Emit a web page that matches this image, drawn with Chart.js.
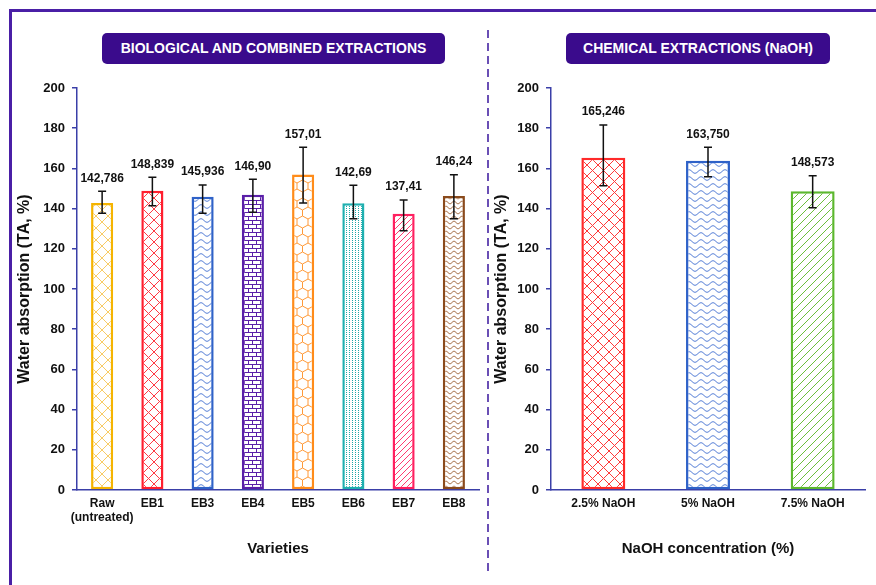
<!DOCTYPE html>
<html>
<head>
<meta charset="utf-8">
<script src="https://cdn.jsdelivr.net/npm/chart.js@4.4.1/dist/chart.umd.min.js"></script>
<style>
  body { margin: 0; background: #fff; font-family: "Liberation Sans", Arial, sans-serif; }
  #stage { position: relative; width: 876px; height: 585px; overflow: hidden; }
  .frame { position: absolute; left: 9px; top: 9px; width: 900px; height: 620px; border: 3px solid #4a1fa6; }
  .box { position: absolute; top: 33px; height: 31px; line-height: 31px; background: #3a0b8c; color: #fff;
         border-radius: 5px; font-weight: bold; font-size: 14px; text-align: center; }
  .divider { position: absolute; left: 487px; top: 30px; width: 2px; height: 543px;
             background: repeating-linear-gradient(to bottom, #6a4fb5 0 8px, transparent 8px 13px); }
  .holder { position: absolute; top: 0; }
</style>
</head>
<body>
<div id="stage">
  <div class="frame"></div>
  <div class="divider"></div>
  <div class="holder" style="left:0"><canvas id="left-chart" width="488" height="585"></canvas></div>
  <div class="holder" style="left:488px"><canvas id="right-chart" width="388" height="585"></canvas></div>
  <div class="box" style="left:102px;width:343px">BIOLOGICAL AND COMBINED EXTRACTIONS</div>
  <div class="box" style="left:566px;width:264px">CHEMICAL EXTRACTIONS (NaOH)</div>
</div>
<script>
// left panel: biological and combined extractions
const leftCategories = [["Raw", "(untreated)"], "EB1", "EB3", "EB4", "EB5", "EB6", "EB7", "EB8"];
const leftValues = [142.786, 148.839, 145.936, 146.90, 157.01, 142.69, 137.41, 146.24];
const leftErrHigh = [148.6, 155.6, 151.7, 154.6, 170.5, 151.6, 144.3, 156.9];
const leftErrLow = [137.7, 141.4, 137.7, 138.2, 142.8, 135.0, 129.0, 135.0];
const leftLabels = ["142,786", "148,839", "145,936", "146,90", "157,01", "142,69", "137,41", "146,24"];

// right panel: NaOH extractions
const rightCategories = ["2.5% NaOH", "5% NaOH", "7.5% NaOH"];
const rightValues = [165.246, 163.750, 148.573];
const rightErrHigh = [181.6, 170.5, 156.4];
const rightErrLow = [151.4, 155.9, 140.4];
const rightLabels = ["165,246", "163,750", "148,573"];

const yTicks = [0, 20, 40, 60, 80, 100, 120, 140, 160, 180, 200];

const AXIS = "#3a3fa8";
const FONT = "'Liberation Sans', Arial, sans-serif";

function makePattern(kind, color) {
    const c = document.createElement("canvas");
    let w = 11, h = 11;
    if (kind === "wave") { w = 12; h = 7; }
    if (kind === "brick") { w = 8; h = 8; }
    if (kind === "hex") { w = 11; h = 18; }
    if (kind === "dots") { w = 3; h = 2; }
    if (kind === "diag") { w = 6; h = 6; }
    if (kind === "diagWide") { w = 8; h = 8; }
    if (kind === "crossLight") { w = 12; h = 12; }
    if (kind === "brown") { w = 8; h = 5; }
    c.width = w; c.height = h;
    const g = c.getContext("2d");
    g.fillStyle = "#fff";
    g.fillRect(0, 0, w, h);
    g.strokeStyle = color;
    g.fillStyle = color;
    g.lineWidth = 1;
    g.beginPath();
    if (kind === "cross" || kind === "crossLight") {
        g.moveTo(0, 0); g.lineTo(w, h);
        g.moveTo(w, 0); g.lineTo(0, h);
    } else if (kind === "wave" || kind === "brown") {
        for (let x = 0; x <= w; x += 0.5) {
            const y = h / 2 + (h / 4) * Math.sin(2 * Math.PI * x / w);
            if (x === 0) g.moveTo(x, y); else g.lineTo(x, y);
        }
    } else if (kind === "brick") {
        g.moveTo(0, 0.5); g.lineTo(w, 0.5);
        g.moveTo(0, 4.5); g.lineTo(w, 4.5);
        g.moveTo(0.5, 0); g.lineTo(0.5, 4);
        g.moveTo(4.5, 4); g.lineTo(4.5, 8);
    } else if (kind === "hex") {
        g.moveTo(5.5, 0); g.lineTo(11, 3); g.lineTo(11, 9); g.lineTo(5.5, 12);
        g.lineTo(0, 9); g.lineTo(0, 3); g.closePath();
        g.moveTo(5.5, 12); g.lineTo(5.5, 18);
    } else if (kind === "dots") {
        g.fillRect(1, 0, 1, 1);
    } else if (kind === "diag" || kind === "diagWide") {
        g.moveTo(0, h); g.lineTo(w, 0);
        g.moveTo(-1, 1); g.lineTo(1, -1);
        g.moveTo(w - 1, h + 1); g.lineTo(w + 1, h - 1);
    }
    g.stroke();
    return g.createPattern(c, "repeat");
}

const ctxL = document.getElementById("left-chart").getContext("2d");
const ctxR = document.getElementById("right-chart").getContext("2d");

const leftBorders = ["#f5b400", "#ff1f2f", "#2f62c8", "#5a1fa8", "#ff8c1a", "#1fb0b0", "#ff2060", "#8a4a1c"];
const leftFills = [
    makePattern("crossLight", "#f8cc66"),
    makePattern("cross", "#ff3a44"),
    makePattern("wave", "#3a6ad0"),
    makePattern("brick", "#5a1fa8"),
    makePattern("hex", "#ff9a3a"),
    makePattern("dots", "#1fa8a8"),
    makePattern("diag", "#ff3a70"),
    makePattern("brown", "#9a5a2a"),
];
const rightBorders = ["#ff2a2a", "#2f62c8", "#5cb82e"];
const rightFills = [
    makePattern("cross", "#ff3a3a"),
    makePattern("wave", "#3a6ad0"),
    makePattern("diagWide", "#6cbf3d"),
];

// draws error bars and value labels from the value scale
function errorBars(high, low, labels) {
    return {
        id: "errorBars",
        afterDatasetsDraw(chart) {
            const { ctx, scales: { y } } = chart;
            const meta = chart.getDatasetMeta(0);
            ctx.save();
            meta.data.forEach((bar, i) => {
                const top = y.getPixelForValue(high[i]);
                const bot = y.getPixelForValue(low[i]);
                ctx.strokeStyle = "#111";
                ctx.lineWidth = 1.5;
                ctx.beginPath();
                ctx.moveTo(bar.x, top); ctx.lineTo(bar.x, bot);
                ctx.moveTo(bar.x - 4, top); ctx.lineTo(bar.x + 4, top);
                ctx.moveTo(bar.x - 4, bot); ctx.lineTo(bar.x + 4, bot);
                ctx.stroke();
                ctx.fillStyle = "#111";
                ctx.font = "bold 12px " + FONT;
                ctx.textAlign = "center";
                ctx.textBaseline = "middle";
                ctx.fillText(labels[i], bar.x, top - 13);
            });
            ctx.restore();
        }
    };
}

function axes(yWidth, titlePad) {
    return {
        x: {
            afterFit: (s) => { s.height = 95; },
            grid: { display: false, drawTicks: false },
            border: { color: AXIS, width: 1.5 },
            ticks: { color: "#111", padding: 6, minRotation: 0, maxRotation: 0, autoSkip: false,
                     font: { family: FONT, size: 12, weight: "bold" } },
            title: { display: true, color: "#111", padding: { top: 0, bottom: 27 },
                     font: { family: FONT, size: 15, weight: "bold" } },
        },
        y: {
            min: 0, max: 200,
            afterFit: (s) => { s.width = yWidth; },
            afterBuildTicks: (s) => { s.ticks = yTicks.map(v => ({ value: v })); },
            grid: { drawOnChartArea: false, drawTicks: true, tickLength: 5, color: AXIS, lineWidth: 1.5 },
            border: { color: AXIS, width: 1.5 },
            ticks: { color: "#111", padding: 7, font: { family: FONT, size: 13, weight: "bold" } },
            title: { display: true, text: "Water absorption (TA, %)", color: "#111", padding: { top: titlePad, bottom: 0 },
                     font: { family: FONT, size: 16, weight: "bold" } },
        },
    };
}

const leftScales = axes(77, 15);
leftScales.x.title.text = "Varieties";
new Chart(ctxL, {
    type: "bar",
    data: {
        labels: leftCategories,
        datasets: [{
            data: leftValues,
            backgroundColor: leftFills,
            borderColor: leftBorders,
            borderWidth: 2.5,
            borderSkipped: false,
            categoryPercentage: 1,
            barPercentage: 0.44,
        }],
    },
    options: {
        responsive: false,
        animation: false,
        devicePixelRatio: 1,
        layout: { padding: { top: 88, right: 9, left: 0, bottom: 0 } },
        plugins: { legend: { display: false }, tooltip: { enabled: false } },
        scales: leftScales,
    },
    plugins: [errorBars(leftErrHigh, leftErrLow, leftLabels)],
});

const rightScales = axes(63, 4);
rightScales.x.title.text = "NaOH concentration (%)";
new Chart(ctxR, {
    type: "bar",
    data: {
        labels: rightCategories,
        datasets: [{
            data: rightValues,
            backgroundColor: rightFills,
            borderColor: rightBorders,
            borderWidth: 2.5,
            borderSkipped: false,
            categoryPercentage: 1,
            barPercentage: 0.42,
        }],
    },
    options: {
        responsive: false,
        animation: false,
        devicePixelRatio: 1,
        layout: { padding: { top: 88, right: 11, left: 0, bottom: 0 } },
        plugins: { legend: { display: false }, tooltip: { enabled: false } },
        scales: rightScales,
    },
    plugins: [errorBars(rightErrHigh, rightErrLow, rightLabels)],
});
</script>
</body>
</html>
